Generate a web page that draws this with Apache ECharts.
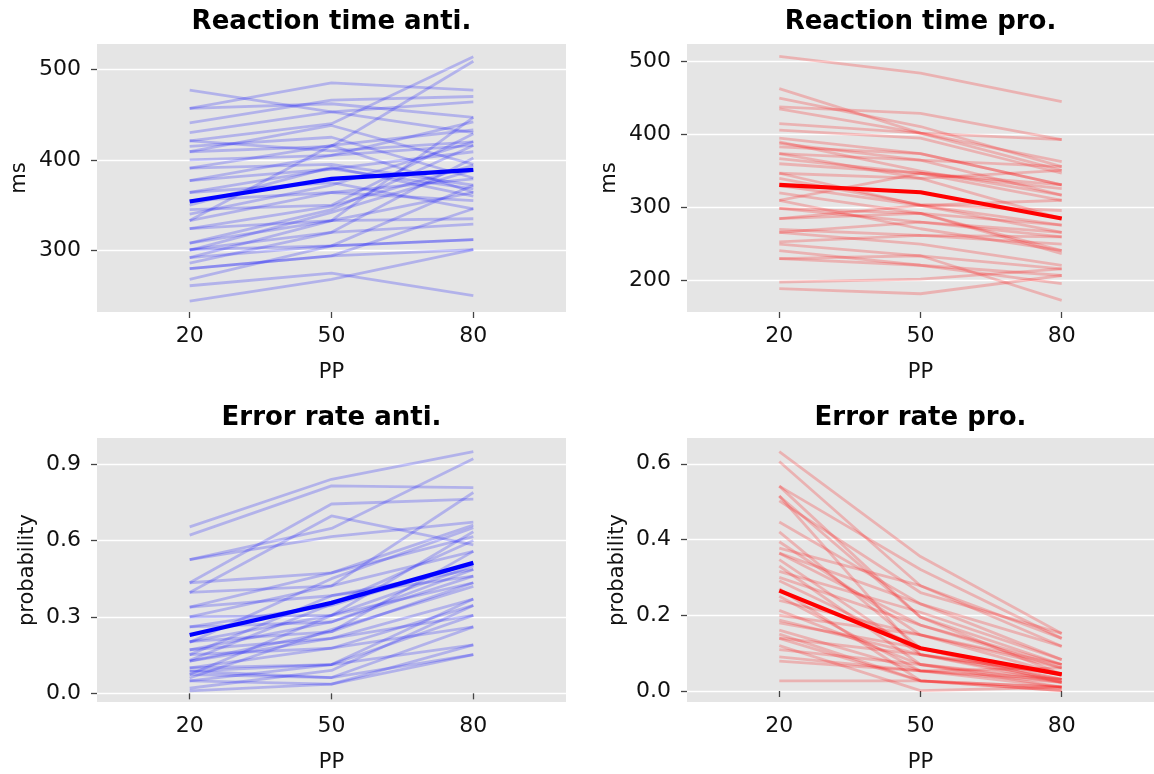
<!DOCTYPE html>
<html>
<head>
<meta charset="utf-8">
<title>PP effects</title>
<script src="https://cdn.jsdelivr.net/npm/echarts@6.0.0/dist/echarts.min.js"></script>
<style>
  html, body { margin: 0; padding: 0; background: #fff; }
  #chart { width: 1154px; height: 774px; }
</style>
</head>
<body>
<div id="chart"></div>
<script>
// x categories (PP)
const ppValues = [20, 50, 80];

// per subject values [PP20, PP50, PP80]
const rtAnti = [
  [477, 453, 430], [457, 485, 477], [457, 462, 447], [441, 466, 470],
  [430, 453, 464], [421, 440, 514], [421, 410, 420], [409, 438, 395],
  [409, 415, 509], [400, 405, 442], [391, 416, 433], [391, 395, 372],
  [377, 405, 416], [377, 390, 368], [364, 390, 409], [364, 375, 346],
  [355, 364, 379], [345, 350, 429], [333, 416, 364], [333, 364, 355],
  [324, 349, 394], [324, 333, 447], [308, 345, 416], [308, 333, 364],
  [301, 320, 402], [301, 305, 312], [292, 333, 335], [292, 305, 372],
  [286, 320, 329], [280, 294, 346], [280, 294, 301], [268, 305, 312],
  [261, 275, 250], [244, 268, 301], [350, 392, 360], [340, 372, 420],
  [300, 342, 389], [415, 425, 380]
];
const rtAntiMean = [354, 379, 389];

const rtPro = [
  [507, 484, 445], [463, 402, 363], [450, 411, 356], [438, 429, 393],
  [435, 402, 351], [415, 402, 393], [406, 395, 347], [395, 374, 331],
  [388, 365, 356], [383, 374, 331], [374, 365, 317], [367, 347, 326],
  [360, 347, 310], [347, 340, 351], [340, 304, 296], [310, 347, 331],
  [299, 292, 276], [299, 280, 266], [285, 292, 241], [285, 303, 310],
  [266, 250, 221], [266, 280, 260], [253, 262, 250], [241, 221, 207],
  [230, 221, 196], [230, 234, 216], [198, 202, 216], [189, 182, 207],
  [310, 271, 241], [320, 292, 237], [347, 303, 266], [374, 340, 285],
  [330, 303, 276], [250, 234, 173], [390, 350, 317], [270, 262, 260]
];
const rtProMean = [331, 321, 285];

const errAnti = [
  [0.653, 0.840, 0.949], [0.621, 0.814, 0.807], [0.525, 0.647, 0.921],
  [0.525, 0.615, 0.672], [0.434, 0.743, 0.762], [0.396, 0.696, 0.583],
  [0.434, 0.473, 0.660], [0.396, 0.422, 0.788], [0.338, 0.473, 0.615],
  [0.338, 0.383, 0.486], [0.300, 0.306, 0.634], [0.300, 0.422, 0.557],
  [0.261, 0.345, 0.512], [0.261, 0.280, 0.460], [0.203, 0.306, 0.434],
  [0.203, 0.242, 0.557], [0.171, 0.280, 0.486], [0.171, 0.216, 0.370],
  [0.152, 0.383, 0.460], [0.152, 0.177, 0.345], [0.126, 0.242, 0.434],
  [0.126, 0.216, 0.306], [0.100, 0.113, 0.370], [0.100, 0.177, 0.261],
  [0.087, 0.113, 0.190], [0.087, 0.062, 0.152], [0.074, 0.062, 0.261],
  [0.074, 0.306, 0.500], [0.049, 0.036, 0.152], [0.049, 0.113, 0.306],
  [0.010, 0.036, 0.190], [0.200, 0.450, 0.650], [0.130, 0.350, 0.600],
  [0.060, 0.250, 0.420], [0.020, 0.090, 0.345]
];
const errAntiMean = [0.229, 0.355, 0.512];

const errPro = [
  [0.632, 0.355, 0.152], [0.606, 0.278, 0.118], [0.541, 0.321, 0.139],
  [0.515, 0.195, 0.070], [0.502, 0.260, 0.152], [0.446, 0.230, 0.083],
  [0.394, 0.148, 0.044], [0.377, 0.278, 0.139], [0.364, 0.174, 0.061],
  [0.347, 0.096, 0.031], [0.316, 0.208, 0.083], [0.291, 0.113, 0.023],
  [0.239, 0.148, 0.070], [0.213, 0.070, 0.010], [0.187, 0.096, 0.044],
  [0.161, 0.053, 0.031], [0.139, 0.027, 0.001], [0.109, 0.070, 0.023],
  [0.079, 0.053, 0.061], [0.027, 0.027, 0.010], [0.541, 0.195, 0.044],
  [0.515, 0.096, 0.023], [0.420, 0.113, 0.031], [0.364, 0.230, 0.118],
  [0.300, 0.174, 0.070], [0.250, 0.053, 0.010], [0.200, 0.148, 0.061],
  [0.180, 0.113, 0.044], [0.150, 0.027, 0.001], [0.120, 0.001, 0.010],
  [0.090, 0.053, 0.023], [0.330, 0.070, 0.031], [0.270, 0.027, 0.010],
  [0.140, 0.096, 0.044]
];
const errProMean = [0.265, 0.113, 0.044];

// y tick labels
const rtAntiTicks = [300, 400, 500];
const rtProTicks = [200, 300, 400, 500];
const errAntiTicks = [0, 0.3, 0.6, 0.9];
const errProTicks = [0, 0.2, 0.4, 0.6];

const titles = ["Reaction time anti.", "Reaction time pro.", "Error rate anti.", "Error rate pro."];

const font = "DejaVu Sans";
const chart = echarts.init(document.getElementById("chart"));

const grids = [
  { left: 97, top: 44, width: 469, height: 268 },
  { left: 687, top: 44, width: 467, height: 268 },
  { left: 97, top: 438, width: 469, height: 269 },
  { left: 687, top: 438, width: 467, height: 269 },
];

function xAxisFor(i) {
  return {
    type: "value",
    gridIndex: i,
    min: 0.4,
    max: 99.6,
    name: "PP",
    nameLocation: "middle",
    nameGap: 50,
    nameTextStyle: { fontFamily: font, fontSize: 21, color: "#111" },
    axisLine: { show: false },
    axisTick: { show: true, length: 6, customValues: ppValues, lineStyle: { color: "#444", width: 1.3 } },
    axisLabel: { customValues: ppValues, fontFamily: font, fontSize: 22, color: "#111", margin: 13 },
    splitLine: { show: false },
  };
}

function yAxisFor(i, min, max, ticks, name, gap, fmt) {
  return {
    type: "value",
    gridIndex: i,
    min: min,
    max: max,
    name: name,
    nameLocation: "middle",
    nameGap: gap,
    nameTextStyle: { fontFamily: font, fontSize: 21, color: "#111" },
    axisLine: { show: false },
    axisTick: { show: true, length: 6, customValues: ticks, lineStyle: { color: "#444", width: 1.3 } },
    axisLabel: { customValues: ticks, fontFamily: font, fontSize: 22, color: "#111", margin: 16, formatter: fmt },
    splitLine: { show: true, lineStyle: { color: "#ffffff", width: 1.3 } },
  };
}

function subjectSeries(rows, idx, color) {
  return rows.map((row) => ({
    type: "line",
    xAxisIndex: idx,
    yAxisIndex: idx,
    symbol: "none",
    silent: true,
    lineStyle: { color: color, width: 2.8 },
    data: row.map((v, k) => [ppValues[k], v]),
  }));
}

function meanSeries(row, idx, color) {
  return {
    type: "line",
    xAxisIndex: idx,
    yAxisIndex: idx,
    symbol: "none",
    silent: true,
    z: 5,
    lineStyle: { color: color, width: 4.2 },
    data: row.map((v, k) => [ppValues[k], v]),
  };
}

const blueFaint = "rgba(0,0,255,0.22)";
const redFaint = "rgba(255,0,0,0.22)";
const dec1 = (v) => v.toFixed(1);

const option = {
  animation: false,
  backgroundColor: "#ffffff",
  title: titles.map((t, i) => ({
    text: t,
    left: grids[i].left + grids[i].width / 2,
    top: i < 2 ? 9 : 405,
    textAlign: "center",
    padding: 0,
    textStyle: { fontFamily: font, fontSize: 26, fontWeight: "bold", color: "#000" },
  })),
  grid: grids.map((g) => Object.assign({ show: true, backgroundColor: "#e5e5e5", borderWidth: 0 }, g)),
  xAxis: [0, 1, 2, 3].map(xAxisFor),
  yAxis: [
    yAxisFor(0, 232, 528, rtAntiTicks, "ms", 67),
    yAxisFor(1, 157, 524, rtProTicks, "ms", 67),
    yAxisFor(2, -0.034, 1.002, errAntiTicks, "probability", 59, dec1),
    yAxisFor(3, -0.029, 0.668, errProTicks, "probability", 59, dec1),
  ],
  series: [].concat(
    subjectSeries(rtAnti, 0, blueFaint),
    [meanSeries(rtAntiMean, 0, "#0000ff")],
    subjectSeries(rtPro, 1, redFaint),
    [meanSeries(rtProMean, 1, "#ff0000")],
    subjectSeries(errAnti, 2, blueFaint),
    [meanSeries(errAntiMean, 2, "#0000ff")],
    subjectSeries(errPro, 3, redFaint),
    [meanSeries(errProMean, 3, "#ff0000")]
  ),
};

chart.setOption(option);
</script>
</body>
</html>
